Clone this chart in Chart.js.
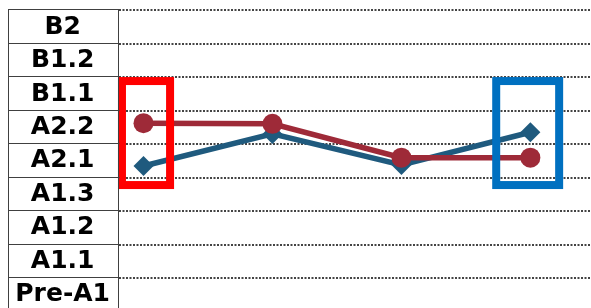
<!DOCTYPE html>
<html><head><meta charset="utf-8">
<script src="https://cdn.jsdelivr.net/npm/chart.js@4/dist/chart.umd.min.js"></script>
<style>html,body{margin:0;padding:0;background:#fff;overflow:hidden}canvas{display:block}</style>
</head><body><canvas id="c" width="591" height="308"></canvas>
<script>
// Level labels, bottom to top (each fills the band just below gridline n+1)
const levelLabels = ['Pre-A1', 'A1.1', 'A1.2', 'A1.3', 'A2.1', 'A2.2', 'B1.1', 'B1.2', 'B2'];
// Gridline / table-boundary values
const gridValues = [1, 2, 3, 4, 5, 6, 7, 8, 9];
// Measurement points (x positions)
const rounds = [0, 1, 2, 3];
// Series values (level scale)
const redValues = [5.63, 5.61, 4.60, 4.60];
const blueValues = [4.35, 5.31, 4.38, 5.36];
// Highlight boxes (in data units)
const boxFrom = [-0.167, 2.735];
const boxTo = [0.206, 3.223];
const boxLow = [3.78, 3.78];
const boxHigh = [6.89, 6.89];
const boxColors = ['#FF0000', '#0070C0'];

const tableColor = '#404040';

const tablePlugin = {
  id: 'levelTable',
  afterDraw(chart) {
    const s = chart.scales.y, ctx = chart.ctx;
    ctx.save();
    ctx.strokeStyle = tableColor;
    ctx.lineWidth = 1;
    ctx.beginPath();
    gridValues.forEach(v => {
      const y = Math.round(s.getPixelForValue(v)) - 0.5;
      ctx.moveTo(s.left, y);
      ctx.lineTo(s.right + 0.5, y);
    });
    const top = Math.round(s.getPixelForValue(gridValues[gridValues.length - 1])) - 0.5;
    [Math.round(s.left) + 0.5, Math.round(s.right) - 0.5].forEach(x => {
      ctx.moveTo(x, top);
      ctx.lineTo(x, chart.height);
    });
    ctx.stroke();
    ctx.restore();
  }
};

const boxPlugin = {
  id: 'highlightBoxes',
  afterDatasetsDraw(chart) {
    const xs = chart.scales.x, ys = chart.scales.y, ctx = chart.ctx;
    ctx.save();
    ctx.lineWidth = 8;
    ctx.lineJoin = 'miter';
    boxFrom.forEach((f, i) => {
      const x1 = xs.getPixelForValue(f), x2 = xs.getPixelForValue(boxTo[i]);
      const y1 = ys.getPixelForValue(boxHigh[i]), y2 = ys.getPixelForValue(boxLow[i]);
      ctx.strokeStyle = boxColors[i];
      ctx.strokeRect(x1, y1, x2 - x1, y2 - y1);
    });
    ctx.restore();
  }
};

const toPts = vals => rounds.map((r, i) => ({x: r, y: vals[i]}));

new Chart(document.getElementById('c'), {
  type: 'line',
  data: {
    datasets: [
      {
        data: toPts(redValues),
        borderColor: '#9E2A38', backgroundColor: '#9E2A38',
        borderWidth: 5.5, pointStyle: 'circle', pointRadius: 10,
        pointBorderWidth: 0, tension: 0, clip: false
      },
      {
        data: toPts(blueValues),
        borderColor: '#1F5A7E', backgroundColor: '#1F5A7E',
        borderWidth: 5.5, pointStyle: 'rectRot', pointRadius: 10,
        pointBorderWidth: 0, tension: 0, clip: false
      }
    ]
  },
  options: {
    responsive: false, animation: false, events: [],
    layout: {autoPadding: false, padding: {left: 8, top: 0, right: 0, bottom: 0}},
    plugins: {legend: {display: false}, tooltip: {enabled: false}},
    scales: {
      x: {type: 'linear', display: false, min: -0.19, max: 3.47},
      y: {
        type: 'linear', position: 'left', min: 0.103, max: 9.314,
        afterBuildTicks(scale) { scale.ticks = gridValues.map(v => ({value: v})); },
        afterFit(scale) { scale.width = 111; scale.paddingTop = 0; scale.paddingBottom = 0; },
        border: {display: false, dash: [2, 1.5]},
        grid: {
          drawTicks: false, color: '#444', lineWidth: 2,
          borderDash: [2, 1.5]
        },
        ticks: {
          autoSkip: false, crossAlign: 'center', padding: 9,
          labelOffset: 16.7, color: '#000',
          font: {family: 'DejaVu Sans', weight: 'bold', size: 25},
          callback: v => levelLabels[v - 1]
        }
      }
    }
  },
  plugins: [tablePlugin, boxPlugin]
});
</script></body></html>
